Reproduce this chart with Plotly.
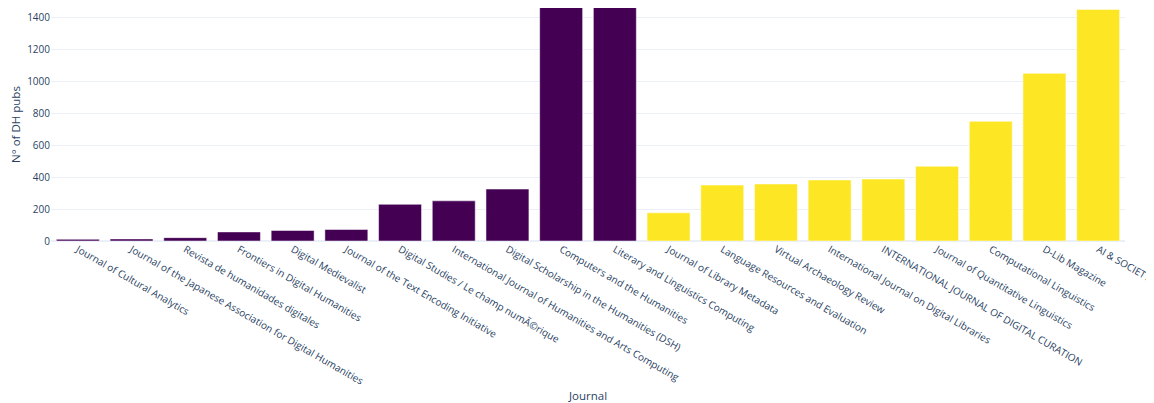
import plotly.graph_objects as go

journals = [
    "Journal of Cultural Analytics",
    "Journal of the Japanese Association for Digital Humanities",
    "Revista de humanidades digitales",
    "Frontiers in Digital Humanities",
    "Digital Medievalist",
    "Journal of the Text Encoding Initiative",
    "Digital Studies / Le champ numÃ©rique",
    "International Journal of Humanities and Arts Computing",
    "Digital Scholarship in the Humanities (DSH)",
    "Computers and the Humanities",
    "Literary and Linguistics Computing",
    "Journal of Library Metadata",
    "Language Resources and Evaluation",
    "Virtual Archaeology Review",
    "International Journal on Digital Libraries",
    "INTERNATIONAL JOURNAL OF DIGITAL CURATION",
    "Journal of Quantitative Linguistics",
    "Computational Linguistics",
    "D-Lib Magazine",
    "AI & SOCIETY",
]
pubs = [11, 13, 21, 57, 66, 72, 230, 252, 326, 1600, 1600, 177, 351, 358, 383, 389, 469, 751, 1052, 1453]
group = ["DH"] * 11 + ["Other"] * 9
group_colors = {"DH": "#440154", "Other": "#fde725"}

fig = go.Figure(go.Bar(
    x=journals,
    y=pubs,
    marker=dict(color=[group_colors[g] for g in group], line=dict(color="white", width=0.5)),
    showlegend=False,
))

fig.update_layout(
    template="plotly_white",
    width=1146,
    height=395,
    margin=dict(l=43, r=29, t=0, b=162, autoexpand=False),
    bargap=0.2,
    font=dict(family="Open Sans, sans-serif", size=10, color="#2a3f5f"),
    xaxis=dict(title=dict(text="Journal", font=dict(size=11.5), standoff=10),
               tickangle=30, automargin=False, tickfont=dict(size=10)),
    yaxis=dict(title=dict(text="N° of DH pubs", font=dict(size=11.5)),
               range=[0, 1462], dtick=200, automargin=False, tickfont=dict(size=10)),
)

fig.write_html("out.html")
